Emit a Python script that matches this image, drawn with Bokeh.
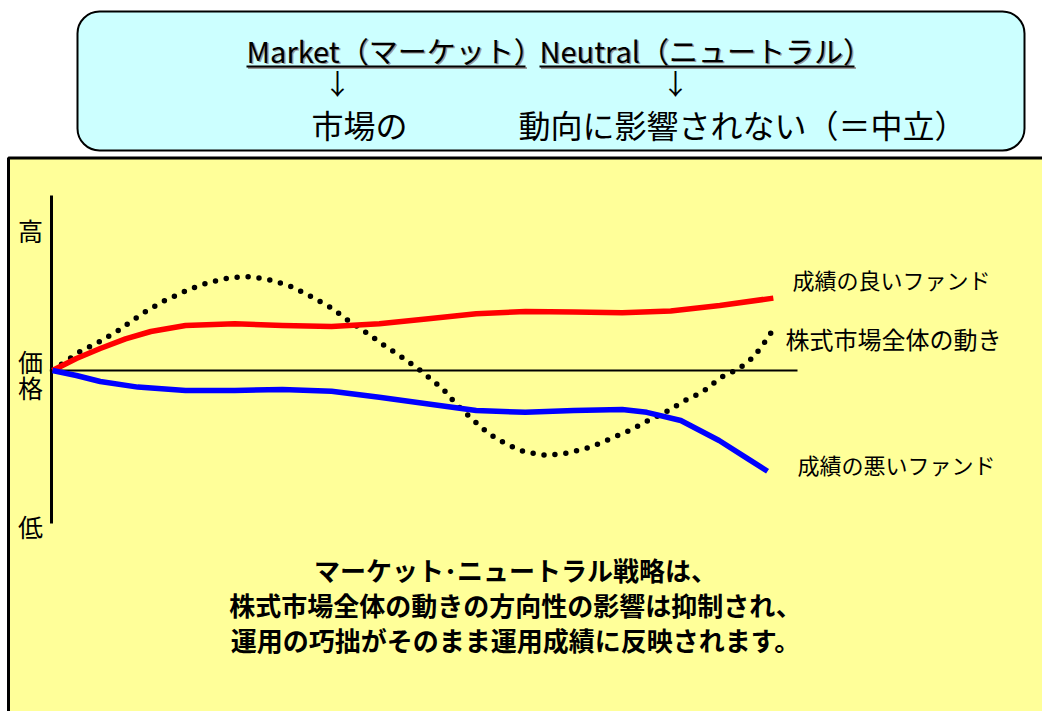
from bokeh.plotting import figure
from bokeh.models import Range1d, BoxAnnotation
from bokeh.core.properties import value
from bokeh.embed import file_html
from bokeh.resources import INLINE

# ---------------- data ----------------
# time axis: 0 = start, 100 = end of period; price relative to start (arbitrary units)
good_t = [0, 3.3, 6.6, 10.1, 13.6, 18.4, 25.2, 31.8, 38.6, 45.2, 52.0, 58.6, 65.4, 72.1, 78.8, 85.5, 92.3, 99.7]
good_fund = [0, 6, 11, 15.8, 19.5, 22.5, 23.4, 22.5, 22, 23.4, 25.9, 28.4, 29.5, 29.2, 28.9, 29.7, 32.5, 36.2]

bad_t = [0, 3.3, 6.6, 11.8, 18.4, 25.2, 31.8, 38.6, 45.2, 52.0, 58.6, 65.4, 72.1, 78.8, 82.2, 86.9, 92.2, 96.2, 98.9]
bad_fund = [0, -2.5, -5.5, -8.3, -10, -10, -9.5, -10.4, -13.4, -16.7, -20, -20.9, -20, -19.5, -20.9, -25, -35, -44.2, -50.4]

market_t = [0, 3.7, 6.4, 9.1, 12.4, 15.1, 19.1, 21.8, 24.5, 27.5, 30.5, 33.2, 35.9, 38.6, 40.9, 43.3,
            45.9, 48.3, 50.6, 54.0, 56.0, 58.0, 60.4, 62.7, 65.4, 68.4, 71.4, 74.4, 77.1, 79.8, 82.4,
            84.8, 87.5, 89.9, 92.5, 94.9, 96.9, 98.2, 99.9]
market = [0, 9.2, 14.2, 20, 28.4, 34.2, 40.9, 44.2, 46.4, 47, 45, 41.7, 36.7, 31.2, 25, 19.2,
          12.5, 6.7, 0.8, -9.2, -17.5, -24.2, -31.7, -36.7, -40.8, -42.5, -41.2, -38.3, -34.2, -30, -25,
          -20.8, -15, -10.8, -3.3, 0.8, 6.5, 12.5, 21.7]

series_labels = ["成績の良いファンド", "株式市場全体の動き", "成績の悪いファンド"]
y_labels = ["高", "価", "格", "低"]
head_en = ["Market（マーケット）", "Neutral（ニュートラル）"]
head_jp = ["市場の", "動向に影響されない（＝中立）"]
note_lines = ["マーケット･ニュートラル戦略は、",
              "株式市場全体の動きの方向性の影響は抑制され、",
              "運用の巧拙がそのまま運用成績に反映されます。"]

# ---------------- layout (page pixels) ----------------
W, H = 1042, 711
X0, Y0 = 0, 0
T_LEFT, T_RIGHT = 52, 775      # pixel x of t=0 and t=100
BASE_Y, PX_PER_UNIT = 370, 2.0  # pixel y of price 0, pixels per price unit

FONT = value("Noto Sans CJK JP")

p = figure(width=W, height=H,
           x_range=Range1d(X0, X0 + W), y_range=Range1d(Y0 + H, Y0),
           x_axis_type=None, y_axis_type=None,
           output_backend="svg", toolbar_location=None,
           min_border=0, outline_line_color=None,
           background_fill_color="white", border_fill_color="white")
p.grid.visible = False

# chart scales for the series
px_per_t = (T_RIGHT - T_LEFT) / 100.0
p.extra_x_ranges["t"] = Range1d((X0 - T_LEFT) / px_per_t, (X0 + W - T_LEFT) / px_per_t)
p.extra_y_ranges["v"] = Range1d((BASE_Y - (Y0 + H)) / PX_PER_UNIT, (BASE_Y - Y0) / PX_PER_UNIT)

# ---------------- panels ----------------
p.add_layout(BoxAnnotation(left=77, right=1024, top=11, bottom=150,
                           fill_color="#CCFFFF", fill_alpha=1,
                           line_color="black", line_width=2, line_alpha=1,
                           border_radius=22, level="underlay"))
p.add_layout(BoxAnnotation(left=8, right=1100, top=157.5, bottom=800,
                           fill_color="#FFFF99", fill_alpha=1,
                           line_color="black", line_width=3, line_alpha=1,
                           level="underlay"))

# ---------------- header texts ----------------
en_x = [246, 539]
en_w = [279, 315]
for sx, col in [(1.5, "#9a9a9a"), (0, "black")]:
    p.text(x=[x + sx for x in en_x], y=[49 + sx] * 2, text=head_en,
           text_font=FONT, text_font_size="29px", text_color=col,
           text_align="left", text_baseline="middle")
    p.segment(x0=[x + sx for x in en_x], y0=[66 + sx] * 2,
              x1=[x + w + sx for x, w in zip(en_x, en_w)], y1=[66 + sx] * 2,
              line_color=col, line_width=2)
p.text(x=[337, 675], y=[82, 82], text=["↓", "↓"], text_font=FONT,
       text_font_size="28px", text_align="center", text_baseline="middle", text_color="black")
p.text(x=[311, 518], y=[123, 123], text=head_jp, text_font=FONT,
       text_font_size="32px", text_align="left", text_baseline="middle", text_color="black")

# ---------------- chart axes ----------------
p.segment(x0=[51], y0=[195], x1=[51], y1=[523], line_color="black", line_width=3)
p.segment(x0=[51], y0=[BASE_Y], x1=[797], y1=[BASE_Y], line_color="black", line_width=2)
p.text(x=[30, 30, 30, 30], y=[229, 360, 386, 525], text=y_labels, text_font=FONT,
       text_font_size="25px", text_align="center", text_baseline="middle", text_color="black")

# ---------------- series ----------------
p.line(market_t, market, x_range_name="t", y_range_name="v",
       line_color="black", line_width=5.5, line_dash="0 11", line_cap="round")
p.line(good_t, good_fund, x_range_name="t", y_range_name="v",
       line_color="#FF0000", line_width=5.5, line_join="round")
p.line(bad_t, bad_fund, x_range_name="t", y_range_name="v",
       line_color="#0000FF", line_width=5.5, line_join="round")

p.text(x=[792], y=[278], text=[series_labels[0]], text_font=FONT, text_font_size="22px",
       text_align="left", text_baseline="middle", text_color="black")
p.text(x=[785], y=[338], text=[series_labels[1]], text_font=FONT, text_font_size="24px",
       text_align="left", text_baseline="middle", text_color="black")
p.text(x=[797], y=[463], text=[series_labels[2]], text_font=FONT, text_font_size="22px",
       text_align="left", text_baseline="middle", text_color="black")

# ---------------- note ----------------
p.text(x=[515, 515, 515], y=[569, 604, 639], text=note_lines, text_font=FONT,
       text_font_size="26px", text_font_style="bold", text_align="center",
       text_baseline="middle", text_color="black")

open("out.html", "w").write(file_html(p, INLINE))
